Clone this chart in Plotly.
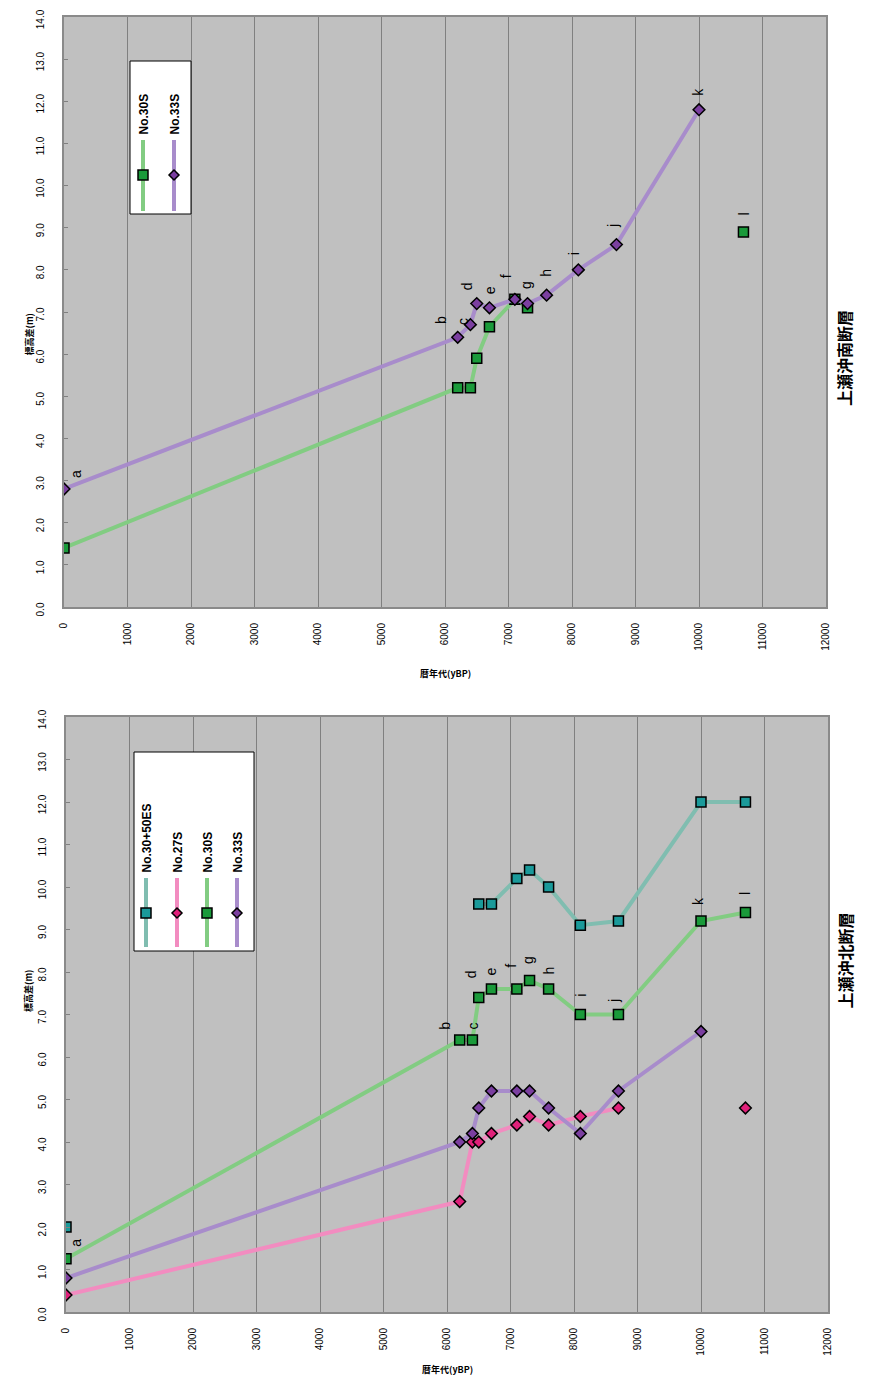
import plotly.graph_objects as go

# page body has an 8px default margin, so the figure is sized to fit exactly in the window
OX, OY = 8, 8
W, H = 875 - 2 * OX, 1399 - 2 * OY

# ---------------- data ----------------
ages = [0, 6200, 6400, 6500, 6700, 7100, 7300, 7600, 8100, 8700, 10000, 10700]
point_labels = ["a", "b", "c", "d", "e", "f", "g", "h", "i", "j", "k", "l"]
x_ticks = [0, 1000, 2000, 3000, 4000, 5000, 6000, 7000, 8000, 9000, 10000, 11000, 12000]

# 上瀬沖南断層 (top panel)
south_no30S = [1.4, 5.2, 5.2, 5.9, 6.65, 7.3, 7.1, None, None, None, None, 8.9]
south_no33S = [2.8, 6.4, 6.7, 7.2, 7.1, 7.3, 7.2, 7.4, 8.0, 8.6, 11.8, None]

# 上瀬沖北断層 (bottom panel)
north_no3050ES = [2.0, None, None, 9.6, 9.6, 10.2, 10.4, 10.0, 9.1, 9.2, 12.0, 12.0]
north_no27S = [0.4, 2.6, 4.0, 4.0, 4.2, 4.4, 4.6, 4.4, 4.6, 4.8, None, 4.8]
north_no30S = [1.25, 6.4, 6.4, 7.4, 7.6, 7.6, 7.8, 7.6, 7.0, 7.0, 9.2, 9.4]
north_no33S = [0.8, 4.0, 4.2, 4.8, 5.2, 5.2, 5.2, 4.8, 4.2, 5.2, 6.6, None]

# ---------------- styles ----------------
STY = {
    "No.30+50ES": dict(line="#80BDB0", fill="#1A9A9A", symbol="square", size=10),
    "No.27S": dict(line="#F28CC0", fill="#E0207A", symbol="diamond", size=9),
    "No.30S": dict(line="#82CC82", fill="#1A9A3A", symbol="square", size=10),
    "No.33S": dict(line="#A88CCB", fill="#7B3FA0", symbol="diamond", size=9),
}

# label offsets in pixels (dx right, dy down) relative to the point they annotate
south_label_off = [(12, -15), (-16, -17), (-8, -3), (-10, -17), (0, -18), (-8, -23),
                   (-2, -18), (0, -22), (-4, -16), (-4, -19), (-1, -18), (0, -18)]
north_label_off = [(10, -16), (-15, -14), (1, -14), (-8, -23), (0, -18), (-6, -23),
                   (-2, -20), (0, -18), (0, -19), (-5, -14), (-3, -20), (-1, -19)]

# panel pixel boxes in window coordinates (left, top, right, bottom)
TOP_BOX = (64, 17, 826, 607)
BOT_BOX = (66, 717, 828, 1312)


def px(x):
    return (x - OX) / W


def py(y):
    return 1 - (y - OY) / H


fig = go.Figure()


def add_series(name, values, xa, ya):
    s = STY[name]
    fig.add_trace(go.Scatter(
        x=ages, y=values, mode="lines+markers", name=name, connectgaps=False,
        xaxis=xa, yaxis=ya, showlegend=False,
        line=dict(color=s["line"], width=4),
        marker=dict(symbol=s["symbol"], size=s["size"],
                    color=s["fill"], line=dict(color="black", width=1.5)),
    ))


add_series("No.30S", south_no30S, "x", "y")
add_series("No.33S", south_no33S, "x", "y")

add_series("No.30+50ES", north_no3050ES, "x2", "y2")
add_series("No.27S", north_no27S, "x2", "y2")
add_series("No.30S", north_no30S, "x2", "y2")
add_series("No.33S", north_no33S, "x2", "y2")

annotations = []


def add_point_labels(series_for_label, offsets, xr, yr):
    for i, lab in enumerate(point_labels):
        v = series_for_label[i][i]
        if v is None:
            continue
        dx, dy = offsets[i]
        annotations.append(dict(
            x=ages[i], y=v, xref=xr, yref=yr, text=lab, showarrow=False,
            textangle=-90, xshift=dx, yshift=-dy,
            font=dict(family="Arial", size=14, color="black"),
        ))


add_point_labels([south_no33S] * 11 + [south_no30S], south_label_off, "x", "y")
add_point_labels([north_no30S] * 12, north_label_off, "x2", "y2")

shapes = []


def add_legend(box, entries, col_x, line_top, line_bot, marker_y, text_bot):
    l, t, r, b = box
    shapes.append(dict(type="rect", xref="paper", yref="paper",
                       x0=px(l), x1=px(r), y0=py(b), y1=py(t),
                       fillcolor="white", line=dict(color="black", width=1)))
    for name, cx in zip(entries, col_x):
        s = STY[name]
        shapes.append(dict(type="line", xref="paper", yref="paper",
                           x0=px(cx), x1=px(cx), y0=py(line_bot), y1=py(line_top),
                           line=dict(color=s["line"], width=4)))
        hs = 5
        if s["symbol"] == "square":
            shapes.append(dict(type="rect", xref="paper", yref="paper",
                               x0=px(cx - hs), x1=px(cx + hs), y0=py(marker_y + hs), y1=py(marker_y - hs),
                               fillcolor=s["fill"], line=dict(color="black", width=1.5)))
        else:
            path = (f"M {px(cx)} {py(marker_y - hs)} L {px(cx + hs)} {py(marker_y)} "
                    f"L {px(cx)} {py(marker_y + hs)} L {px(cx - hs)} {py(marker_y)} Z")
            shapes.append(dict(type="path", xref="paper", yref="paper", path=path,
                               fillcolor=s["fill"], line=dict(color="black", width=1.5)))
        annotations.append(dict(
            x=px(cx), y=py(text_bot), xref="paper", yref="paper", text=f"<b>{name}</b>",
            showarrow=False, textangle=-90, xanchor="center", yanchor="bottom",
            font=dict(family="Arial", size=12, color="black"),
        ))


add_legend((130, 61, 191, 214), ["No.30S", "No.33S"], [143, 174], 140, 211, 175, 137)
add_legend((134, 752, 254, 951), ["No.30+50ES", "No.27S", "No.30S", "No.33S"],
           [146, 177, 207, 237], 878, 947, 913, 875)


def axis_titles(box, title):
    l, t, r, b = box
    cy = (t + b) / 2
    cx = (l + r) / 2
    annotations.append(dict(x=px(20), y=py(cy), xref="paper", yref="paper",
                            text="<b>標高差(m)</b>", showarrow=False, textangle=-90,
                            font=dict(family="Noto Sans CJK JP", size=9, color="black")))
    annotations.append(dict(x=px(cx), y=py(b + 66), xref="paper", yref="paper",
                            text="<b>暦年代(yBP)</b>", showarrow=False,
                            font=dict(family="Noto Sans CJK JP", size=9, color="black")))
    annotations.append(dict(x=px(858), y=py(cy - 4), xref="paper", yref="paper",
                            text=f"<b>{title}</b>", showarrow=False, textangle=-90,
                            font=dict(family="Noto Sans CJK JP", size=16, color="black")))


axis_titles(TOP_BOX, "上瀬沖南断層")
axis_titles(BOT_BOX, "上瀬沖北断層")

xaxis_common = dict(range=[0, 12000], tickvals=x_ticks, ticktext=[str(v) for v in x_ticks],
                    showgrid=True, gridcolor="#808080", gridwidth=1, zeroline=False,
                    showline=True, linecolor="#8a8a8a", linewidth=2, mirror=True,
                    ticks="", tickangle=-90, automargin=False, ticklabelstandoff=10,
                    ticklabeloverflow="allow",
                    tickfont=dict(family="Arial", size=10, color="black"))
yaxis_common = dict(range=[0, 14], dtick=1, tickformat=".1f", showgrid=False, zeroline=False,
                    showline=True, linecolor="#8a8a8a", linewidth=2, mirror=True,
                    ticks="inside", ticklen=4, tickcolor="#808080", tickangle=-90,
                    automargin=False, ticklabelstandoff=14, ticklabeloverflow="allow",
                    ticklabelshift=4,
                    tickfont=dict(family="Arial", size=10, color="black"))

fig.update_layout(
    width=W, height=H,
    margin=dict(l=0, r=0, t=0, b=0, pad=0),
    paper_bgcolor="white", plot_bgcolor="#C0C0C0",
    showlegend=False,
    xaxis=dict(domain=[px(TOP_BOX[0]), px(TOP_BOX[2])], anchor="y", **xaxis_common),
    yaxis=dict(domain=[py(TOP_BOX[3]), py(TOP_BOX[1])], anchor="x", **yaxis_common),
    xaxis2=dict(domain=[px(BOT_BOX[0]), px(BOT_BOX[2])], anchor="y2", **xaxis_common),
    yaxis2=dict(domain=[py(BOT_BOX[3]), py(BOT_BOX[1])], anchor="x2", **yaxis_common),
    annotations=annotations,
    shapes=shapes,
)

fig.write_html("out.html")
